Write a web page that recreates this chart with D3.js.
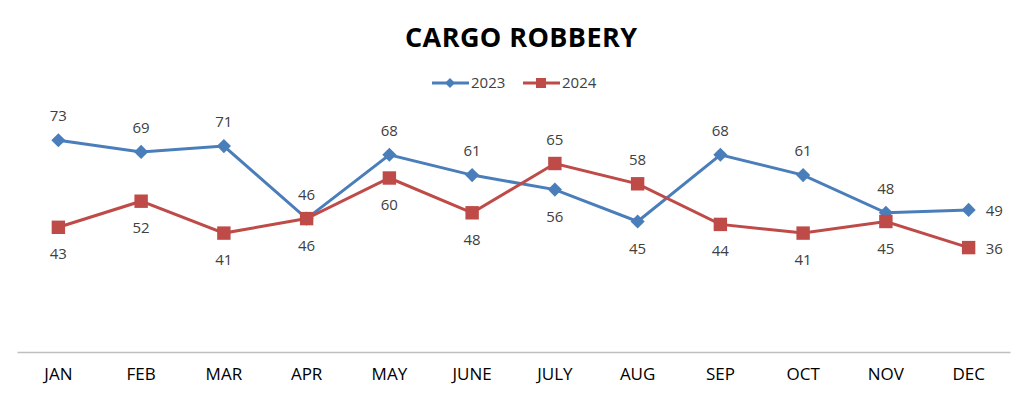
<!DOCTYPE html>
<html>
<head>
<meta charset="utf-8">
<script src="https://cdn.jsdelivr.net/npm/d3@7"></script>
<style>
  html, body { margin: 0; padding: 0; background: #fff; }
  svg { display: block; }
</style>
</head>
<body>
<script>
// データ
const months = ["JAN", "FEB", "MAR", "APR", "MAY", "JUNE", "JULY", "AUG", "SEP", "OCT", "NOV", "DEC"];
const values2023 = [73, 69, 71, 46, 68, 61, 56, 45, 68, 61, 48, 49];
const values2024 = [43, 52, 41, 46, 60, 48, 65, 58, 44, 41, 45, 36];
// ラベル位置 (a=上, b=下, r=右)
const labelPos2023 = ["a", "a", "a", "a", "a", "a", "b", "b", "a", "a", "a", "r"];
const labelPos2024 = ["b", "b", "b", "b", "b", "b", "a", "a", "b", "b", "b", "r"];

const width = 1024;
const height = 397;
const margin = { top: 120, right: 14, bottom: 45, left: 17 };
const font = "Open Sans, Noto Sans, sans-serif";

const svg = d3.select("body").append("svg")
  .attr("width", width)
  .attr("height", height);

// スケール
const x = d3.scaleBand()
  .domain(months)
  .range([margin.left, width - margin.right]);

const y = d3.scaleLinear()
  .domain([0, 80])
  .range([height - margin.bottom, margin.top]);

// タイトル
svg.append("text")
  .attr("x", 521)
  .attr("y", 47)
  .attr("text-anchor", "middle")
  .attr("font-family", font)
  .attr("font-weight", "bold")
  .attr("font-size", 27)
  .attr("textLength", 232)
  .attr("fill", "#000")
  .text("CARGO ROBBERY");

// X軸
const xAxis = svg.append("g")
  .attr("transform", `translate(0,${y(0)})`)
  .call(d3.axisBottom(x).tickSize(0).tickPadding(16));
xAxis.select(".domain").attr("stroke", "#bfbfbf").attr("stroke-width", 1.5);
xAxis.selectAll("text")
  .attr("font-family", font)
  .attr("font-size", 17)
  .attr("fill", "#000");

const series = [
  { name: "2023", values: values2023, pos: labelPos2023, color: "#4a7ebb", shape: d3.symbolSquare, rot: 45, size: 100 },
  { name: "2024", values: values2024, pos: labelPos2024, color: "#be4b48", shape: d3.symbolSquare, rot: 0, size: 180 }
];

const line = d3.line()
  .x((d, i) => x(months[i]) + x.bandwidth() / 2)
  .y(d => y(d));

series.forEach(s => {
  svg.append("path")
    .datum(s.values)
    .attr("fill", "none")
    .attr("stroke", s.color)
    .attr("stroke-width", 3)
    .attr("d", line);

  svg.selectAll(null)
    .data(s.values)
    .join("path")
    .attr("transform", (d, i) => `translate(${x(months[i]) + x.bandwidth() / 2},${y(d)}) rotate(${s.rot})`)
    .attr("d", d3.symbol().type(s.shape).size(s.size))
    .attr("fill", s.color);

  // データラベル
  svg.selectAll(null)
    .data(s.values)
    .join("text")
    .attr("x", (d, i) => x(months[i]) + x.bandwidth() / 2 + (s.pos[i] === "r" ? 17 : 0))
    .attr("y", (d, i) => y(d) + (s.pos[i] === "a" ? -19 : s.pos[i] === "b" ? 32 : 6))
    .attr("text-anchor", (d, i) => s.pos[i] === "r" ? "start" : "middle")
    .attr("font-family", font)
    .attr("font-size", 15)
    .attr("fill", "#404040")
    .text(d => d);
});

// 凡例
const legend = svg.append("g").attr("transform", "translate(432,83)");
series.forEach((s, i) => {
  const g = legend.append("g").attr("transform", `translate(${i * 91},0)`);
  g.append("line")
    .attr("x1", 0).attr("x2", 37)
    .attr("stroke", s.color)
    .attr("stroke-width", 3);
  g.append("path")
    .attr("transform", `translate(18,0) rotate(${s.rot})`)
    .attr("d", d3.symbol().type(s.shape).size(s.rot ? 50 : 100))
    .attr("fill", s.color);
  g.append("text")
    .attr("x", 39)
    .attr("y", 5)
    .attr("font-family", font)
    .attr("font-size", 15)
    .attr("fill", "#404040")
    .text(s.name);
});
</script>
</body>
</html>
